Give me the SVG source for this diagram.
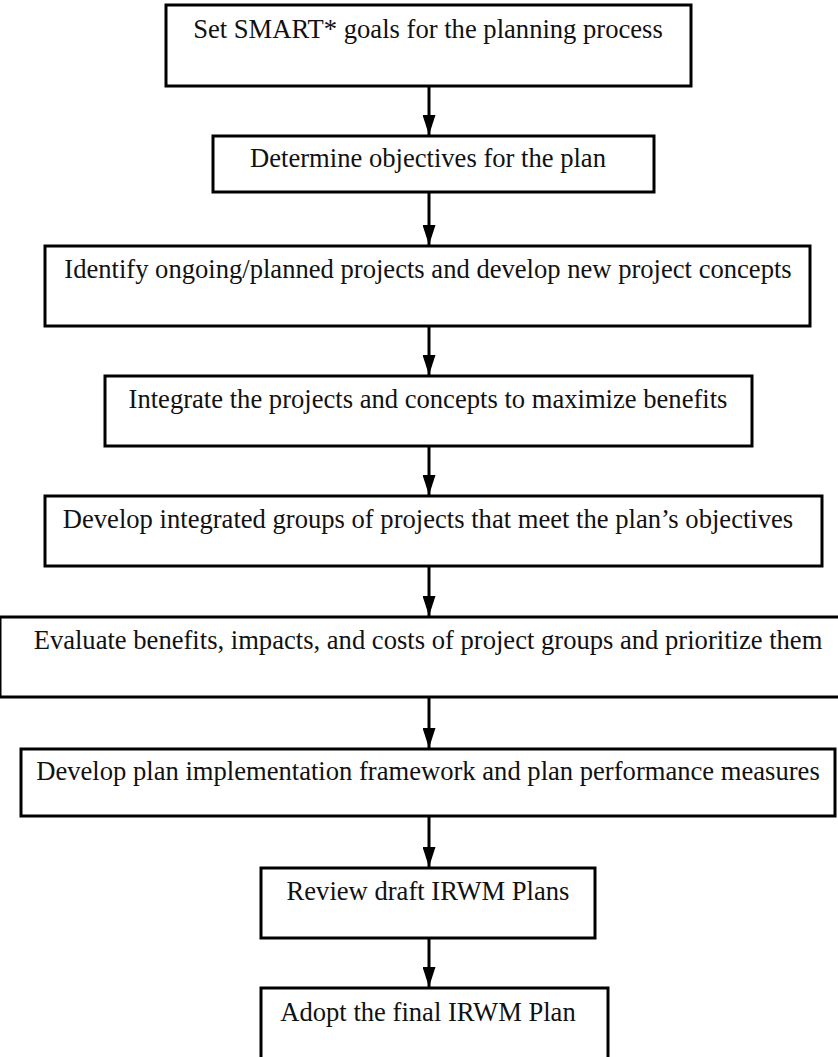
<svg xmlns="http://www.w3.org/2000/svg" width="838" height="1057" viewBox="0 0 838 1057">
<defs>
<style>
.box{fill:#fff;stroke:#000;stroke-width:3}
.lbl{font-family:"Liberation Serif","Times New Roman",serif;font-size:26.6px;fill:#111;text-anchor:middle}
.conn{stroke:#000;stroke-width:3;fill:none}
</style>
<marker id="ah" markerUnits="userSpaceOnUse" markerWidth="20" markerHeight="13" refX="20" refY="6.5" orient="auto" viewBox="0 0 20 13">
<path d="M0,0 L20,6.5 L0,13 Z" fill="#000"/>
</marker>
</defs>
<rect width="838" height="1057" fill="#fff"/>
<g id="connectors">
<line class="conn" x1="429" y1="86" x2="429" y2="135" marker-end="url(#ah)"/>
<line class="conn" x1="429" y1="192" x2="429" y2="245" marker-end="url(#ah)"/>
<line class="conn" x1="429" y1="326" x2="429" y2="375" marker-end="url(#ah)"/>
<line class="conn" x1="429" y1="446" x2="429" y2="495" marker-end="url(#ah)"/>
<line class="conn" x1="429" y1="566" x2="429" y2="616" marker-end="url(#ah)"/>
<line class="conn" x1="429" y1="697" x2="429" y2="748" marker-end="url(#ah)"/>
<line class="conn" x1="429" y1="816" x2="429" y2="867" marker-end="url(#ah)"/>
<line class="conn" x1="429" y1="938" x2="429" y2="987" marker-end="url(#ah)"/>
</g>
<g id="n1"><rect class="box" x="166" y="5" width="525" height="81"/><text class="lbl" x="428" y="38">Set SMART* goals for the planning process</text></g>
<g id="n2"><rect class="box" x="213" y="136" width="441" height="56"/><text class="lbl" x="428" y="167">Determine objectives for the plan</text></g>
<g id="n3"><rect class="box" x="45" y="246" width="765" height="80"/><text class="lbl" x="428" y="278">Identify ongoing/planned projects and develop new project concepts</text></g>
<g id="n4"><rect class="box" x="105" y="376" width="647" height="70"/><text class="lbl" x="428" y="408">Integrate the projects and concepts to maximize benefits</text></g>
<g id="n5"><rect class="box" x="45" y="496" width="777" height="70"/><text class="lbl" x="428" y="528">Develop integrated groups of projects that meet the plan’s objectives</text></g>
<g id="n6"><rect class="box" x="0" y="617" width="840" height="80"/><text class="lbl" x="428" y="649">Evaluate benefits, impacts, and costs of project groups and prioritize them</text></g>
<g id="n7"><rect class="box" x="21" y="749" width="814" height="67"/><text class="lbl" x="428" y="780">Develop plan implementation framework and plan performance measures</text></g>
<g id="n8"><rect class="box" x="261" y="868" width="334" height="70"/><text class="lbl" x="428" y="900">Review draft IRWM Plans</text></g>
<g id="n9"><rect class="box" x="261" y="988" width="347" height="80"/><text class="lbl" x="428" y="1021">Adopt the final IRWM Plan</text></g>
</svg>
